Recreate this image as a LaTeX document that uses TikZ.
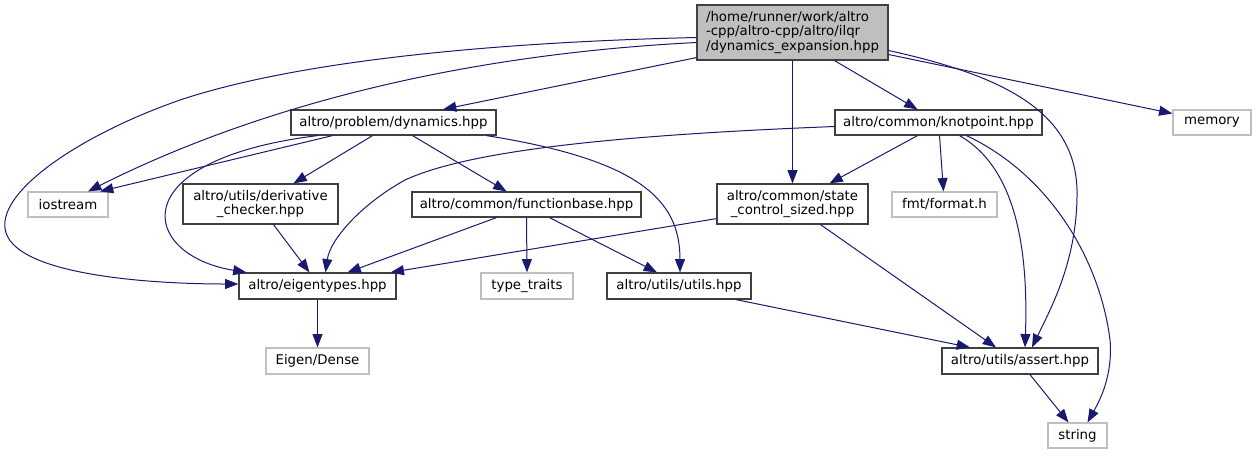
\documentclass[tikz,border=0pt]{standalone}
\usepackage{fontspec}
\setmainfont{DejaVu Sans}
\definecolor{edgeblue}{RGB}{25, 25, 112}
\definecolor{boxgray}{RGB}{191, 191, 191}
\definecolor{boxline}{RGB}{64, 64, 64}
\usetikzlibrary{arrows.meta, calc}

\tikzset{
  file/.style={draw=boxline, line width=0.9pt, fill=white, inner sep=0pt, align=center,
    minimum height=25*0.75pt, font=\fontsize{10}{10.5}\selectfont},
  extfile/.style={file, draw=boxgray},
  rootfile/.style={file, fill=boxgray, align=left},
  boxw/.style={minimum width=#1*0.75pt},
  boxh/.style={minimum height=#1*0.75pt},
  dep/.style={draw=edgeblue, line width=0.75pt, -{Triangle[length=10pt, width=7.5pt]}},
}

\begin{document}
\begin{tikzpicture}[x=0.75pt, y=-0.75pt]
  \useasboundingbox (0,0) rectangle (1256,455);

  % files, rank by rank
  \node[rootfile, boxw=191, boxh=55] (root) at (792.5,32.5) {/home/runner/work/altro\\-cpp/altro-cpp/altro/ilqr\\/dynamics\_expansion.hpp};

  \node[file, boxw=205] (dyn) at (393.5,122.5) {altro/problem/dynamics.hpp};
  \node[file, boxw=207] (knot) at (938.5,122.5) {altro/common/knotpoint.hpp};
  \node[extfile, boxw=78] (memory) at (1212,122.5) {memory};

  \node[extfile, boxw=80] (iostream) at (68,204.5) {iostream};
  \node[file, boxw=155, boxh=40] (deriv) at (260.5,204) {altro/utils/derivative\\\_checker.hpp};
  \node[file, boxw=229] (funcbase) at (526.5,204.5) {altro/common/functionbase.hpp};
  \node[file, boxw=151, boxh=40] (scs) at (792.5,204) {altro/common/state\\\_control\_sized.hpp};
  \node[extfile, boxw=105] (fmt) at (944.5,204.5) {fmt/format.h};

  \node[file, boxw=157, boxh=26] (eigen) at (317.5,286) {altro/eigentypes.hpp};
  \node[extfile, boxw=92, boxh=26] (typetraits) at (527,286) {type\_traits};
  \node[file, boxw=144, boxh=26] (utils) at (679,286) {altro/utils/utils.hpp};

  \node[extfile, boxw=103, boxh=26] (dense) at (317.5,361) {Eigen/Dense};
  \node[file, boxw=156, boxh=26] (assert) at (1020,361) {altro/utils/assert.hpp};

  \node[extfile, boxw=59] (string) at (1077.5,435.5) {string};

  % includes of the root file
  \draw[dep] ($(root.south west)+(0,-3)$) -- ($(dyn.north)+(49.5,0)$);
  \draw[dep] ($(root.south)+(42,0)$) -- ($(knot.north)+(-21,0)$);
  \draw[dep] ($(root.east)+(0,22)$) -- ($(memory.west)+(0,-9)$);
  \draw[dep] (root.south) -- (scs.north);
  \draw[dep] ($(root.east)+(0,18)$) .. controls (1000,75) and (1075,110) .. (1077,190)
    .. controls (1078,260) and (1050,310) .. ($(assert.north)+(12,0)$);
  \draw[dep] ($(root.west)+(0,10)$) .. controls (450,55) and (250,110) .. ($(iostream.north)+(20,0)$);
  \draw[dep] ($(root.west)+(0,5)$) .. controls (500,42) and (300,60) .. (180,100)
    .. controls (80,135) and (0,190) .. (5,228)
    .. controls (10,275) and (150,284) .. ($(eigen.west)+(0,-2)$);

  % dynamics.hpp
  \draw[dep] ($(dyn.south)+(-61,0)$) -- ($(iostream.north)+(32,0)$);
  \draw[dep] ($(dyn.south)+(-76,0)$) .. controls (120,160) and (140,255) .. ($(eigen.north)+(-71,0)$);
  \draw[dep] ($(dyn.south)+(-21,0)$) -- ($(deriv.north)+(33,0)$);
  \draw[dep] ($(dyn.south)+(19,0)$) -- ($(funcbase.north)+(-20,0)$);
  \draw[dep] ($(dyn.south)+(93,0)$) .. controls (640,160) and (680,200) .. ($(utils.north)+(1,0)$);

  % knotpoint.hpp
  \draw[dep] ($(knot.west)+(0,4)$) .. controls (620,135) and (470,150) .. (405,180)
    .. controls (360,205) and (330,240) .. ($(eigen.north)+(8,0)$);
  \draw[dep] ($(knot.south)+(-21,0)$) -- ($(scs.north)+(37,0)$);
  \draw[dep] ($(knot.south)+(1,0)$) -- ($(fmt.north)+(-1,0)$);
  \draw[dep] ($(knot.south)+(21,0)$) .. controls (1020,170) and (1028,260) .. ($(assert.north)+(5,0)$);
  \draw[dep] ($(knot.south)+(28,0)$) .. controls (1050,175) and (1100,260) .. (1110,340)
    .. controls (1113,375) and (1100,400) .. ($(string.north)+(10,0)$);

  % second level
  \draw[dep] ($(deriv.south)+(13,0)$) -- ($(eigen.north)+(-8,0)$);
  \draw[dep] ($(funcbase.south)+(-30,0)$) -- ($(eigen.north)+(30,0)$);
  \draw[dep] (funcbase.south) -- (typetraits.north);
  \draw[dep] ($(funcbase.south)+(23,0)$) -- ($(utils.north)+(-22,0)$);
  \draw[dep] ($(scs.south west)+(0,-6)$) -- ($(eigen.north east)+(-6,0)$);
  \draw[dep] ($(scs.south)+(28,0)$) -- ($(assert.north)+(-24,0)$);

  % bottom
  \draw[dep] ($(utils.south)+(57,0)$) -- ($(assert.north)+(-50,0)$);
  \draw[dep] (eigen.south) -- (dense.north);
  \draw[dep] ($(assert.south)+(10,0)$) -- ($(string.north)+(-9,0)$);
\end{tikzpicture}
\end{document}
